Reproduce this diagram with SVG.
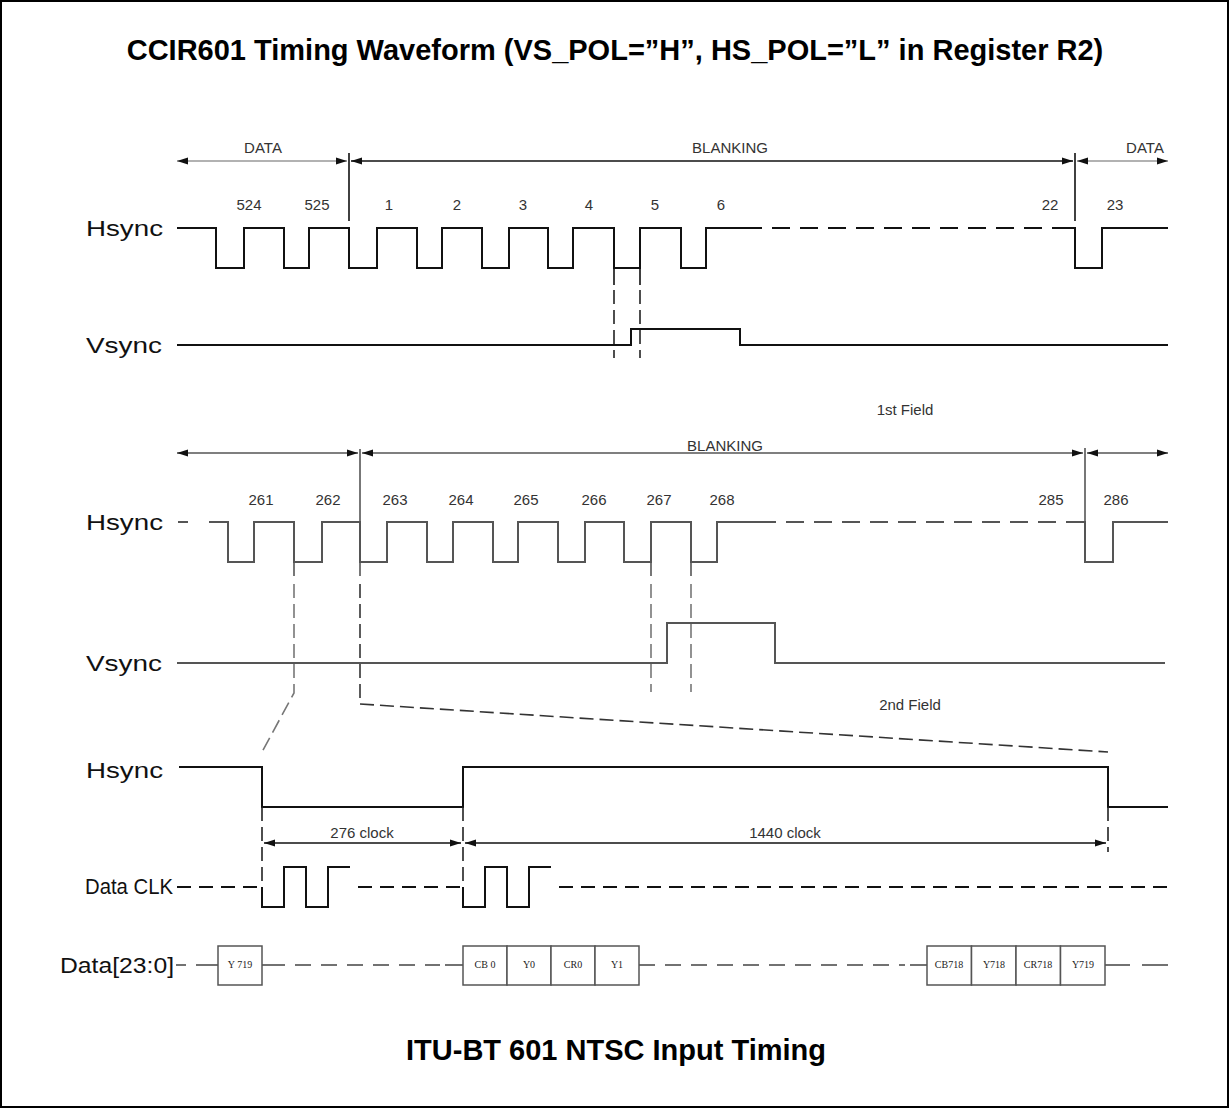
<svg xmlns="http://www.w3.org/2000/svg" width="1230" height="1109" viewBox="0 0 1230 1109">
<defs>
<marker id="ah" markerUnits="userSpaceOnUse" markerWidth="11" markerHeight="8" refX="11" refY="4" orient="auto-start-reverse"><path d="M0,0.5 L11,4 L0,7.5 z" fill="#111"/></marker>
<style>
.title{font-family:"Liberation Sans",Arial,sans-serif;font-weight:bold;font-size:29px;fill:#000;text-anchor:middle;}
.lbl{font-family:"Liberation Sans",Arial,sans-serif;font-size:22px;fill:#111;}
.num{font-family:"Liberation Sans",Arial,sans-serif;font-size:15px;fill:#333;text-anchor:middle;}
.box{font-family:"Liberation Serif","Times New Roman",serif;font-size:10px;fill:#222;text-anchor:middle;}
.w{fill:none;stroke:#111;stroke-width:2;}
.wg{fill:none;stroke:#555;stroke-width:2;}
.d{fill:none;stroke:#111;stroke-width:2;stroke-dasharray:18 10;}
.dg{fill:none;stroke:#555;stroke-width:2;stroke-dasharray:18 10;}
.dv{fill:none;stroke:#222;stroke-width:1.6;stroke-dasharray:14 6;}
.dvg{fill:none;stroke:#777;stroke-width:1.6;stroke-dasharray:14 6;}
.ar{fill:none;stroke:#111;stroke-width:1.5;marker-start:url(#ah);marker-end:url(#ah);}
.arg{fill:none;stroke:#999;stroke-width:1.5;marker-start:url(#ah);marker-end:url(#ah);}
.bx{fill:#fff;stroke:#555;stroke-width:1.5;}
</style>
</defs>
<rect x="1" y="1" width="1227" height="1106" fill="#fff" stroke="#000" stroke-width="2"/>
<text class="title" x="615" y="60">CCIR601 Timing Waveform (VS_POL=”H”, HS_POL=”L” in Register R2)</text>
<text class="title" x="616" y="1060">ITU-BT 601 NTSC Input Timing</text>

<g id="signal-labels">
<text class="lbl" x="86" y="236" textLength="77" lengthAdjust="spacingAndGlyphs">Hsync</text>
<text class="lbl" x="86" y="353" textLength="76" lengthAdjust="spacingAndGlyphs">Vsync</text>
<text class="lbl" x="86" y="530" textLength="77" lengthAdjust="spacingAndGlyphs">Hsync</text>
<text class="lbl" x="86" y="671" textLength="76" lengthAdjust="spacingAndGlyphs">Vsync</text>
<text class="lbl" x="86" y="778" textLength="77" lengthAdjust="spacingAndGlyphs">Hsync</text>
<text class="lbl" x="85" y="894" textLength="88" lengthAdjust="spacingAndGlyphs">Data CLK</text>
<text class="lbl" x="60" y="973" textLength="114" lengthAdjust="spacingAndGlyphs">Data[23:0]</text>
</g>

<g id="field1">
<text class="num" x="263" y="153">DATA</text>
<text class="num" x="730" y="153">BLANKING</text>
<text class="num" x="1145" y="153">DATA</text>
<text class="num" x="249" y="210">524</text>
<text class="num" x="317" y="210">525</text>
<text class="num" x="389" y="210">1</text>
<text class="num" x="457" y="210">2</text>
<text class="num" x="523" y="210">3</text>
<text class="num" x="589" y="210">4</text>
<text class="num" x="655" y="210">5</text>
<text class="num" x="721" y="210">6</text>
<text class="num" x="1050" y="210">22</text>
<text class="num" x="1115" y="210">23</text>
<text class="num" x="905" y="415">1st Field</text>
<path class="w" d="M177,228 H216 V268 H244 V228 H284 V268 H309 V228 H349 V268 H377 V228 H417 V268 H442 V228 H482 V268 H509 V228 H548 V268 H573 V228 H614 V268 H640 V228 H681 V268 H706 V228 H762"/>
<path class="d" d="M772,228 H1075"/>
<path class="w" d="M1062,228 H1075 V268 H1102 V228 H1168"/>
<path class="w" d="M177,345 H631 V329 H740 V345 H1168"/>
</g>

<g id="field2">
<text class="num" x="725" y="451">BLANKING</text>
<text class="num" x="261" y="505">261</text>
<text class="num" x="328" y="505">262</text>
<text class="num" x="395" y="505">263</text>
<text class="num" x="461" y="505">264</text>
<text class="num" x="526" y="505">265</text>
<text class="num" x="594" y="505">266</text>
<text class="num" x="659" y="505">267</text>
<text class="num" x="722" y="505">268</text>
<text class="num" x="1051" y="505">285</text>
<text class="num" x="1116" y="505">286</text>
<text class="num" x="910" y="710">2nd Field</text>
<path class="wg" d="M178,522 H188 M209,522 H228 V562 H254 V522 H294 V562 H322 V522 H360 V562 H387 V522 H427 V562 H453 V522 H493 V562 H518 V522 H558 V562 H585 V522 H624 V562 H651 V522 H691 V562 H717 V522 H776"/>
<path class="dg" d="M786,522 H1085"/>
<path class="wg" d="M1072,522 H1085 V562 H1113 V522 H1168"/>
<path class="wg" d="M177,663 H667 V623 H775 V663 H1165"/>
</g>

<g id="line-detail">
<text class="num" x="362" y="838">276 clock</text>
<text class="num" x="785" y="838">1440 clock</text>
<path class="w" d="M179,767 H262 V807 H463 V767 H1108 V807 H1168"/>
<path class="d" d="M177,887 H262" style="stroke-dasharray:14 8"/>
<path class="w" d="M262,887 V907 H284 V867 H306 V907 H328 V867 H350"/>
<path class="d" d="M358,887 H463" style="stroke-dasharray:14 8"/>
<path class="w" d="M463,887 V907 H485 V867 H507 V907 H529 V867 H551"/>
<path class="d" d="M559,887 H1168" style="stroke-dasharray:14 8"/>
</g>

<g id="data-bus">
<path class="w" d="M176,965 H186 M196,965 H218 M262,965 H285 M445,965 H463 M639,965 H655 M910,965 H927 M1105,965 H1130 M1142,965 H1168" style="stroke:#444;stroke-width:1.6"/>
<path class="d" d="M295,965 H440" style="stroke:#444;stroke-width:1.6;stroke-dasharray:16 10"/>
<path class="d" d="M665,965 H905" style="stroke:#444;stroke-width:1.6;stroke-dasharray:16 10"/>
<rect class="bx" x="218" y="946" width="44" height="39"/>
<text class="box" x="240" y="968">Y 719</text>
<rect class="bx" x="463" y="946" width="44" height="39"/>
<rect class="bx" x="507" y="946" width="44" height="39"/>
<rect class="bx" x="551" y="946" width="44" height="39"/>
<rect class="bx" x="595" y="946" width="44" height="39"/>
<text class="box" x="485" y="968">CB 0</text>
<text class="box" x="529" y="968">Y0</text>
<text class="box" x="573" y="968">CR0</text>
<text class="box" x="617" y="968">Y1</text>
<rect class="bx" x="927" y="946" width="44.5" height="39"/>
<rect class="bx" x="971.5" y="946" width="44.5" height="39"/>
<rect class="bx" x="1016" y="946" width="44.5" height="39"/>
<rect class="bx" x="1060.5" y="946" width="44.5" height="39"/>
<text class="box" x="949" y="968">CB718</text>
<text class="box" x="994" y="968">Y718</text>
<text class="box" x="1038" y="968">CR718</text>
<text class="box" x="1083" y="968">Y719</text>
</g>

<g id="connectors">
<line class="arg" x1="177" y1="161" x2="347" y2="161"/>
<line class="ar" x1="351" y1="161" x2="1073" y2="161"/>
<line class="arg" x1="1077" y1="161" x2="1168" y2="161"/>
<line class="w" x1="349" y1="153" x2="349" y2="221" style="stroke-width:1.6"/>
<line class="w" x1="1075" y1="153" x2="1075" y2="221" style="stroke-width:1.6"/>
<path class="w" d="M614,268 V285 M640,268 V285" style="stroke-width:1.6"/>
<path class="dv" d="M614,290 V358 M640,290 V358"/>
<line class="ar" x1="177" y1="453" x2="358" y2="453" style="stroke:#555"/>
<line class="ar" x1="362" y1="453" x2="1083" y2="453" style="stroke:#555"/>
<line class="ar" x1="1087" y1="453" x2="1168" y2="453" style="stroke:#555"/>
<line class="wg" x1="360" y1="449" x2="360" y2="576" style="stroke-width:1.6"/>
<line class="wg" x1="1085" y1="448" x2="1085" y2="522" style="stroke-width:1.6"/>
<path class="wg" d="M294,562 V576 M651,562 V576 M691,562 V576" style="stroke-width:1.6"/>
<path class="dvg" d="M294,584 V693 L262,752"/>
<path class="dv" d="M360,584 V704 L1108,752" style="stroke:#333"/>
<path class="dvg" d="M651,584 V692 M691,584 V692"/>
<path class="dv" d="M262,807 V887 M463,807 V887 M1108,807 V852"/>
<line class="ar" x1="264" y1="843" x2="461" y2="843"/>
<line class="ar" x1="465" y1="843" x2="1106" y2="843"/>
</g>
</svg>
